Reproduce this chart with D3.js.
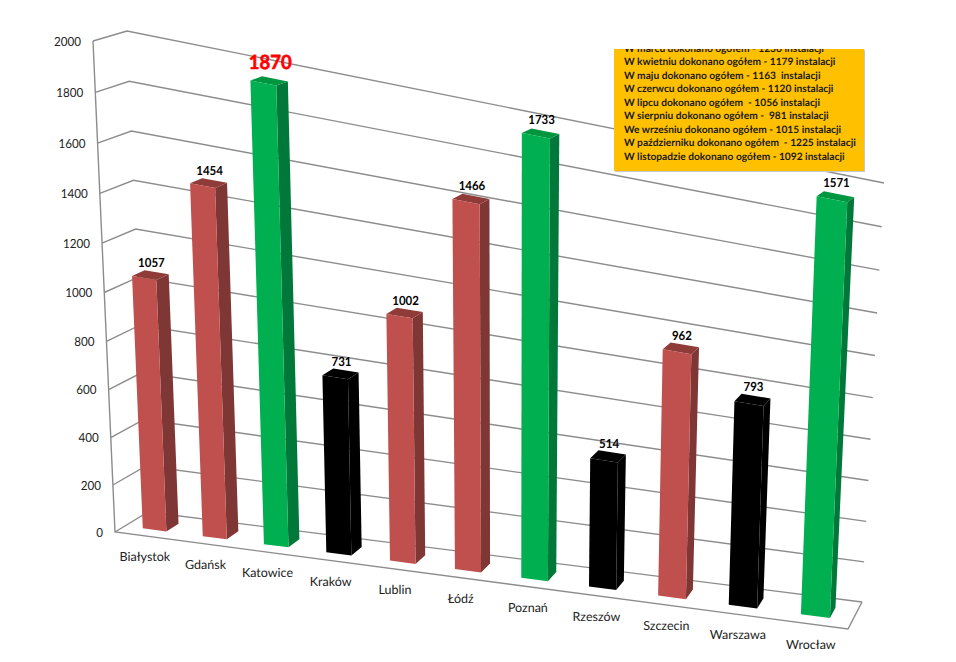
<!DOCTYPE html>
<html><head><meta charset="utf-8">
<script src="https://cdn.jsdelivr.net/npm/d3@7/dist/d3.min.js"></script>
<style>html,body{margin:0;padding:0;background:#fff}svg{display:block}text{font-family:Lato,"Open Sans",sans-serif;text-rendering:geometricPrecision}</style>
</head><body><svg id="c" width="956" height="662"></svg>
<script>
const categories = ["Białystok","Gdańsk","Katowice","Kraków","Lublin","Łódź","Poznań","Rzeszów","Szczecin","Warszawa","Wrocław"];
const printedValues = [1057,1454,1870,731,1002,1466,1733,514,962,793,1571];
const drawnHeights = [1062,1484,1948,774,1082,1620,1954,590,1132,952,1934];
const barKinds = ["red","red","green","black","red","red","green","black","red","black","green"];
const valueTicks = [0,200,400,600,800,1000,1200,1400,1600,1800,2000];
const noteLines = [
 "W marcu dokonano ogółem - 1236 instalacji",
 "W kwietniu dokonano ogółem - 1179 instalacji",
 "W maju dokonano ogółem - 1163  instalacji",
 "W czerwcu dokonano ogółem - 1120 instalacji",
 "W lipcu dokonano ogółem  - 1056 instalacji",
 "W sierpniu dokonano ogółem -  981 instalacji",
 "We wrześniu dokonano ogółem - 1015 instalacji",
 "W październiku dokonano ogółem  - 1225 instalacji",
 "W listopadzie dokonano ogółem - 1092 instalacji"];

const palette = {
 red:{front:"#C0504D",side:"#7F3735",top:"#8F3B38"},
 green:{front:"#00B050",side:"#00783A",top:"#00953F"},
 black:{front:"#000000",side:"#000000",top:"#000000"}};

// corners of the 3D box on the page: [front/back][bottom/top][left/right]
const C = {
 f0l:[115,532], f1l:[93,41],  f0r:[848,629], f1r:[866,196],
 b0l:[148,512], b1l:[127,31], b0r:[862,602], b1r:[884,183]};
const lerp=(a,b,t)=>[a[0]+(b[0]-a[0])*t,a[1]+(b[1]-a[1])*t];
function P(u,v,w){
 const f=lerp(lerp(C.f0l,C.f0r,u),lerp(C.f1l,C.f1r,u),v);
 const b=lerp(lerp(C.b0l,C.b0r,u),lerp(C.b1l,C.b1r,u),v);
 return lerp(f,b,w);
}
const persp=k=>t=>t/(1+k*(1-t));
const vPersp=persp(0.05), uPersp=persp(0.12);
const yScale=d3.scaleLinear().domain([0,2000]).range([0,1]);
const V=d=>vPersp(yScale(d));
const xScale=d3.scaleBand().domain(categories).range([0,1]);
const T=c=>xScale(c)+xScale.bandwidth()/2;
const DT=0.018, W0=0.3, W1=0.68;

const svg=d3.select("#c");
const line=d3.line();
const gGrid=svg.append("g").attr("fill","none").attr("stroke","#8c8c8c").attr("stroke-width",1.4);
valueTicks.forEach(t=>{
 const v=V(t);
 gGrid.append("path").attr("d",line([P(0,v,0),P(0,v,1),P(1,v,1)]));
});
gGrid.append("path").attr("d",line([P(0,1,0),P(0,0,0),P(1,0,0),P(1,0,1)]));

const gTicks=svg.append("g").attr("font-size",12.5).attr("fill","#222").attr("text-anchor","end");
valueTicks.forEach(t=>{
 const p=P(0,V(t),0);
 gTicks.append("text").attr("x",p[0]-12).attr("y",p[1]+4.5).text(t)
  .attr("textLength",String(t).length*6.75).attr("lengthAdjust","spacingAndGlyphs");
});

const gBars=svg.append("g");
const poly=(pts,f)=>gBars.append("path").attr("d",line(pts)+"Z").attr("fill",f);
categories.forEach((c,i)=>{
 const t=T(c), a=uPersp(t-DT), b=uPersp(t+DT), u=uPersp(t), v=V(drawnHeights[i]), s=palette[barKinds[i]];
 poly([P(b,0,W0),P(b,0,W1),P(b,v,W1),P(b,v,W0)],s.side);
 poly([P(a,v,W0),P(b,v,W0),P(b,v,W1),P(a,v,W1)],s.top);
 poly([P(a,0,W0),P(b,0,W0),P(b,v,W0),P(a,v,W0)],s.front);
 const mid=P(u,v,(W0+W1)/2), back=P(u,v,W1), big=printedValues[i]===1870;
 svg.append("text").attr("x",mid[0]+1).attr("y",back[1]-(big?10:3+4*v))
  .attr("text-anchor","middle").attr("font-weight",700)
  .attr("font-size",big?19.5:12.5).attr("fill",big?"#FF0000":"#000")
  .attr("stroke",big?"#FF0000":"none").attr("stroke-width",big?0.6:0).text(printedValues[i])
  .attr("textLength",String(printedValues[i]).length*(big?10.75:6.65)).attr("lengthAdjust","spacingAndGlyphs");
 const q=P(u,0,0);
 svg.append("text").attr("x",q[0]).attr("y",q[1]+25).attr("text-anchor","middle")
  .attr("font-size",12.5).attr("fill","#222").text(c);
});

// note box
const box={x:614,y:49,w:250,h:122};
svg.append("rect").attr("x",box.x+1).attr("y",box.y+1).attr("width",box.w).attr("height",box.h).attr("fill","#c8c8c8");
svg.append("rect").attr("x",box.x).attr("y",box.y).attr("width",box.w).attr("height",box.h).attr("fill","#FFC000");
svg.append("clipPath").attr("id","nb").append("rect").attr("x",box.x).attr("y",box.y).attr("width",box.w).attr("height",box.h);
const gNote=svg.append("g").attr("clip-path","url(#nb)").attr("font-size",10.2).attr("font-weight",700).attr("fill","#1a1a1a");
noteLines.forEach((t,i)=>gNote.append("text").attr("x",624).attr("y",51.5+i*13.56).style("white-space","pre").text(t));
</script></body></html>
